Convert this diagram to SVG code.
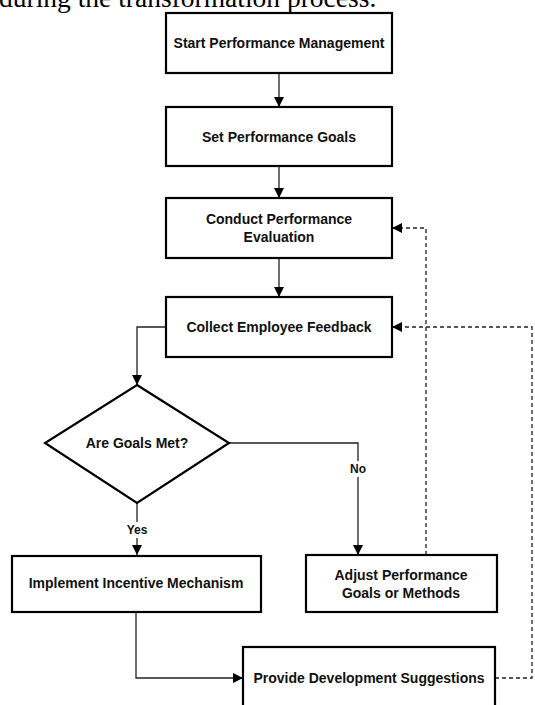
<svg xmlns="http://www.w3.org/2000/svg" width="535" height="705" viewBox="0 0 535 705">
<style>
.box{fill:#fff;stroke:#000;stroke-width:2.2}
.t{font-family:"Liberation Sans",Arial,sans-serif;font-weight:bold;font-size:14px;fill:#111;text-anchor:middle;dominant-baseline:central}
.lbl{font-family:"Liberation Sans",Arial,sans-serif;font-weight:bold;font-size:12px;fill:#111;text-anchor:middle;dominant-baseline:central}
.c{fill:none;stroke:#222;stroke-width:1.3}
.d{fill:none;stroke:#222;stroke-width:1.3;stroke-dasharray:4 3}
</style>
<defs>
<marker id="ah" viewBox="0 0 10 10" refX="10" refY="5" markerWidth="10" markerHeight="10" markerUnits="userSpaceOnUse" orient="auto">
<path d="M0,0 L10,5 L0,10 z" fill="#000"/>
</marker>
</defs>
<text x="-1" y="7" font-family="Liberation Serif,'Times New Roman',serif" font-size="27.5" fill="#000">during the transformation process.</text>
<g id="connectors">
<path class="c" d="M279,73 V107" marker-end="url(#ah)"/>
<path class="c" d="M279,166 V198" marker-end="url(#ah)"/>
<path class="c" d="M279,258 V297" marker-end="url(#ah)"/>
<path class="c" d="M166,327 H137 V385" marker-end="url(#ah)"/>
<path class="c" d="M229,443 H358 V555" marker-end="url(#ah)"/>
<path class="c" d="M137,503 V555" marker-end="url(#ah)"/>
<path class="c" d="M136,612 V678 H243" marker-end="url(#ah)"/>
<path class="d" d="M426,555 V228 H392" marker-end="url(#ah)"/>
<path class="d" d="M495,678 H532 V327 H392" marker-end="url(#ah)"/>
<rect x="345" y="461" width="26" height="16" fill="#fff"/>
<text class="lbl" x="358" y="469">No</text>
<rect x="123" y="522" width="28" height="16" fill="#fff"/>
<text class="lbl" x="137" y="530">Yes</text>
</g>
<g id="start"><rect class="box" x="166" y="13" width="226" height="60"/><text class="t" x="279" y="43">Start Performance Management</text></g>
<g id="goals"><rect class="box" x="166" y="107" width="226" height="59"/><text class="t" x="279" y="137">Set Performance Goals</text></g>
<g id="evaluate"><rect class="box" x="166" y="198" width="226" height="60"/><text class="t" x="279" y="219">Conduct Performance</text><text class="t" x="279" y="237">Evaluation</text></g>
<g id="feedback"><rect class="box" x="166" y="297" width="226" height="60"/><text class="t" x="279" y="327">Collect Employee Feedback</text></g>
<g id="decision"><path class="box" d="M137,385 L229,443 L137,503 L45,443 Z"/><text class="t" x="137" y="443">Are Goals Met?</text></g>
<g id="incentive"><rect class="box" x="12" y="556" width="249" height="56"/><text class="t" x="136" y="583">Implement Incentive Mechanism</text></g>
<g id="adjust"><rect class="box" x="306" y="555" width="191" height="57"/><text class="t" x="401" y="575">Adjust Performance</text><text class="t" x="401" y="593">Goals or Methods</text></g>
<g id="suggest"><rect class="box" x="243" y="647" width="252" height="64"/><text class="t" x="369" y="678">Provide Development Suggestions</text></g>
</svg>
